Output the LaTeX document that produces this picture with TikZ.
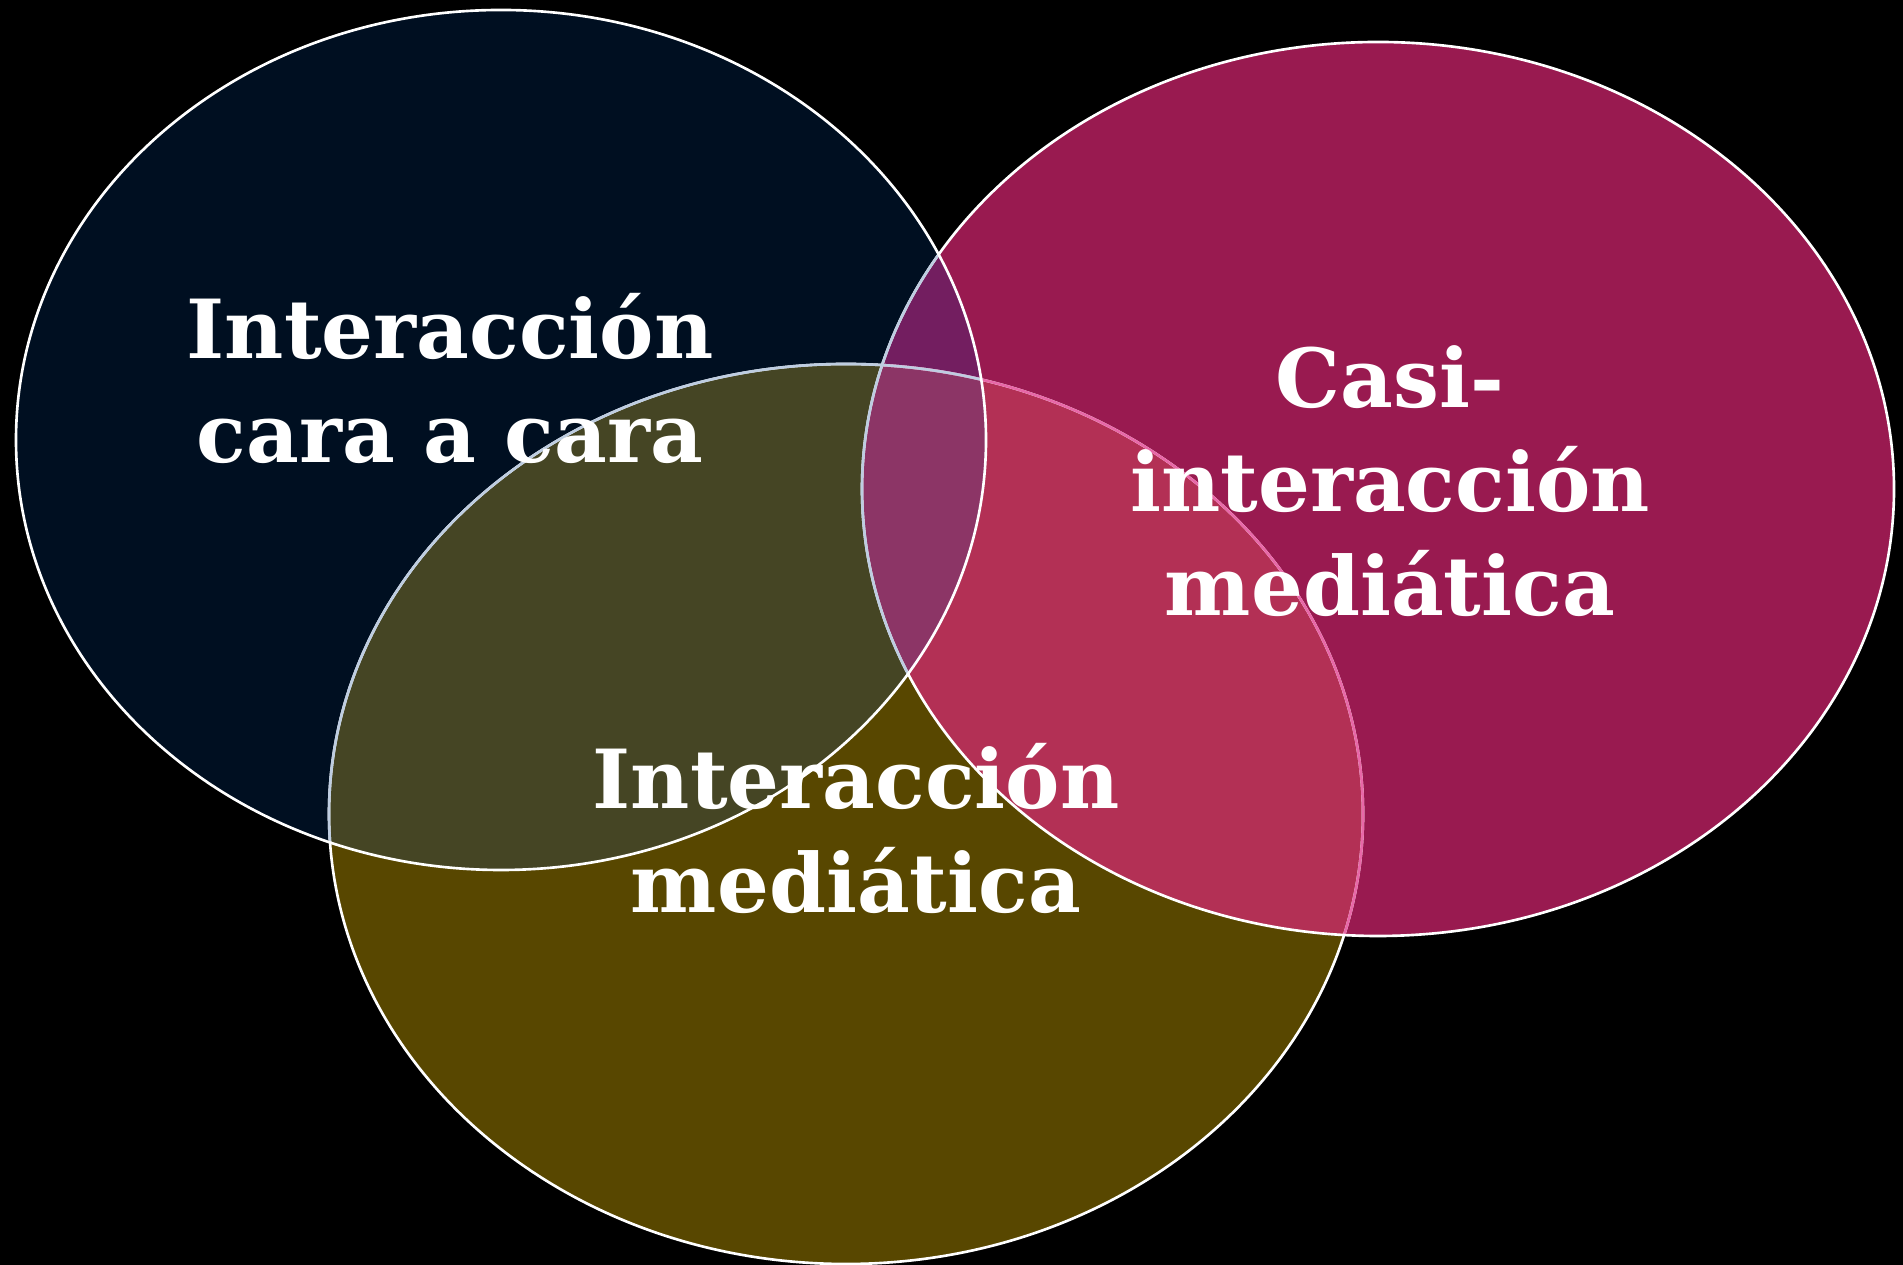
\documentclass[tikz,border=0pt]{standalone}
\usepackage{fontspec}
\setmainfont{DejaVu Serif}
\usetikzlibrary{positioning}
\definecolor{facenavy}{RGB}{0,15,33}
\definecolor{quasimagenta}{RGB}{153,26,80}
\definecolor{mediaolive}{RGB}{88,71,0}
\definecolor{navymagenta}{RGB}{115,30,96}
\definecolor{navyolive}{RGB}{69,69,36}
\definecolor{olivemagenta}{RGB}{179,48,85}
\definecolor{allthree}{RGB}{140,53,102}
\definecolor{edgeblue}{RGB}{190,205,225}
\definecolor{edgepink}{RGB}{232,104,168}
\tikzstyle{rim}=[draw=white,line width=0.75pt]
\tikzstyle{venntext}=[text=white,font=\fontsize{23.2}{29.6}\selectfont\bfseries,align=center,inner sep=0pt]

\begin{document}
\begin{tikzpicture}
%-------------------------start frame code ---------------------
	\fill[black] (0,0) rectangle (19.03,12.65);
	\useasboundingbox (0,0) rectangle (19.03,12.65);
%--------------------------end frame code ----------------------
%--------------------start object code --------------------
	\def\faceRx{4.85}
	\def\faceRy{4.30}
	\def\quasiRx{5.16}
	\def\quasiRy{4.47}
	\def\mediaRx{5.17}
	\def\mediaRy{4.50}
	
	\coordinate (faceC) at (5.01,8.25);
	\coordinate (quasiC) at (13.78,7.76);
	\coordinate (mediaC) at (8.46,4.51);
	
	%Plain ellipses
	\fill[facenavy] (faceC) ellipse [x radius=\faceRx, y radius=\faceRy];
	\fill[quasimagenta] (quasiC) ellipse [x radius=\quasiRx, y radius=\quasiRy];
	\fill[mediaolive] (mediaC) ellipse [x radius=\mediaRx, y radius=\mediaRy];
	
	%Overlaps
	\begin{scope}
		\clip (quasiC) ellipse [x radius=\quasiRx, y radius=\quasiRy];
		\fill[olivemagenta] (mediaC) ellipse [x radius=\mediaRx, y radius=\mediaRy];
	\end{scope}
	\begin{scope}
		\clip (faceC) ellipse [x radius=\faceRx, y radius=\faceRy];
		\fill[navymagenta] (quasiC) ellipse [x radius=\quasiRx, y radius=\quasiRy];
		\fill[navyolive] (mediaC) ellipse [x radius=\mediaRx, y radius=\mediaRy];
		\clip (quasiC) ellipse [x radius=\quasiRx, y radius=\quasiRy];
		\fill[allthree] (mediaC) ellipse [x radius=\mediaRx, y radius=\mediaRy];
	\end{scope}
	
	%Outlines
	\draw[rim] (mediaC) ellipse [x radius=\mediaRx, y radius=\mediaRy];
	\begin{scope}
		\clip (quasiC) ellipse [x radius=\quasiRx, y radius=\quasiRy];
		\draw[rim,draw=edgepink] (mediaC) ellipse [x radius=\mediaRx, y radius=\mediaRy];
	\end{scope}
	\draw[rim] (quasiC) ellipse [x radius=\quasiRx, y radius=\quasiRy];
	\begin{scope}
		\clip (faceC) ellipse [x radius=\faceRx, y radius=\faceRy];
		\draw[rim,draw=edgeblue] (mediaC) ellipse [x radius=\mediaRx, y radius=\mediaRy];
		\draw[rim,draw=edgeblue] (quasiC) ellipse [x radius=\quasiRx, y radius=\quasiRy];
	\end{scope}
	\draw[rim] (faceC) ellipse [x radius=\faceRx, y radius=\faceRy];
	
	%Labels (base sits on the last line)
	\node[venntext,anchor=base] (faceLbl) at (4.50,8.02) {Interacción\\cara a cara};
	\node[venntext,anchor=base] (quasiLbl) at (13.90,6.49) {Casi-\\interacción\\mediática};
	\node[venntext,anchor=base] (mediaLbl) at (8.56,3.52) {Interacción\\mediática};
%-------------------------end object code-----------------------
\end{tikzpicture}
\end{document}
